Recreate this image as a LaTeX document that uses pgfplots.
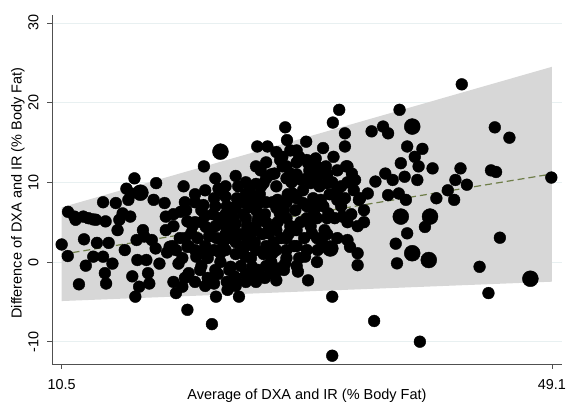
\documentclass[border=0pt]{standalone}
\usepackage{pgfplots}
\pgfplotsset{compat=1.18}
\usepackage{fontspec}
\setmainfont{Liberation Sans}

\definecolor{bandgray}{RGB}{215,215,215}
\definecolor{fitgreen}{RGB}{110,125,72}
\definecolor{gridc}{RGB}{232,240,241}
\definecolor{axisc}{RGB}{80,80,80}

\pgfplotstableread{
x y
10.5 2.2
10.98 0.75
11.0 6.3
11.5 5.7
11.6 5.3
11.86 -2.8
12.2 5.7
12.26 2.85
12.4 -0.46
12.6 5.5
12.97 5.35
13.2 5.3
12.99 0.67
13.28 2.4
13.76 7.5
13.76 0.67
13.9 -1.4
14.0 -2.7
13.96 5.1
14.2 2.4
14.5 -0.2
14.76 7.4
14.9 4.0
15.04 5.3
15.3 6.1
15.47 1.5
15.6 9.2
15.75 7.8
15.9 5.7
15.95 8.6
16.06 -1.8
16.23 10.5
16.3 -4.35
16.4 2.76
16.46 0.25
16.6 -3.1
16.9 4.0
17.0 3.2
17.17 0.25
17.3 -1.4
17.4 -2.7
17.6 2.76
17.74 7.8
17.94 9.9
17.9 1.7
18.2 -0.2
18.6 7.4
18.7 5.7
18.7 4.0
19.0 1.9
19.5 -3.9
19.7 -0.2
19.87 6.3
20.0 -3.1
20.1 9.5
20.3 6.5
20.4 -6.0
20.4 5.1
20.4 1.9
20.5 -1.4
20.7 3.6
21.1 0.67
21.4 -1.0
21.66 7.15
21.7 12.0
21.85 4.4
22.1 3.2
22.33 -7.8
22.5 -2.7
22.65 -4.35
22.85 9.2
22.99 1.1
23.3 2.76
23.4 9.5
23.5 5.7
23.56 -3.5
23.8 -0.6
24.0 4.0
24.1 -1.8
24.4 9.5
24.46 -4.35
24.55 7.8
24.7 1.9
24.98 0.67
25.26 6.9
25.4 3.6
25.5 -0.6
25.7 -1.8
25.9 14.5
25.97 5.5
26.05 7.4
26.17 11.5
26.4 9.9
26.7 14.5
26.8 3.6
26.9 -1.4
27.1 1.1
27.25 11.1
27.4 -2.3
27.5 7.8
27.67 6.1
27.87 13.2
28.1 16.9
28.24 15.3
28.1 -0.17
28.4 3.6
28.5 11.1
28.67 8.6
28.8 4.4
29.1 -1.2
29.2 13.2
29.36 10.3
29.5 7.4
29.66 0.67
29.75 15.1
29.9 -2.3
29.9 12.4
30.1 9.9
30.2 3.6
30.37 6.1
30.65 1.5
30.8 11.1
30.9 7.8
31.08 14.3
31.2 4.0
31.36 9.9
31.5 6.1
31.8 -4.35
31.8 -11.76
31.85 17.5
31.9 13.2
32.2 7.8
32.35 19.1
32.5 9.5
32.6 5.7
32.8 16.15
32.8 14.5
32.9 12.0
33.0 2.76
33.2 1.9
33.35 11.1
33.6 10.3
33.8 -0.4
33.8 1.1
33.9 7.8
34.3 6.5
34.6 8.6
34.9 16.4
35.2 10.1
35.1 -7.4
35.8 17.0
35.98 11.1
36.2 16.15
36.2 8.4
36.56 10.3
36.8 2.3
36.9 -0.17
37.04 8.6
37.1 19.1
37.2 12.4
37.5 10.7
37.6 7.8
37.7 3.6
37.7 14.5
38.3 13.2
38.5 10.3
38.6 12.0
38.7 -10.0
38.9 14.2
39.1 4.4
39.7 11.75
40.0 8.0
40.9 9.0
41.4 7.8
41.5 10.3
41.9 11.75
42.0 22.3
42.4 9.7
43.4 -0.6
44.1 -3.9
44.3 11.5
44.6 16.9
44.7 11.3
45.0 3.05
45.75 15.6
49.05 10.6
20.5 2.0
20.8 4.5
21.0 1.5
21.2 3.0
21.5 5.0
21.8 2.0
22.0 0.5
22.2 4.0
22.4 6.0
22.5 1.5
22.7 3.0
22.9 5.5
23.0 0.0
23.2 2.0
23.4 4.5
23.5 7.0
23.7 -1.0
23.8 3.0
24.0 5.5
24.2 1.0
24.3 8.0
24.5 3.5
24.6 -0.5
24.8 6.0
25.0 2.0
25.1 4.5
25.3 9.0
25.4 0.5
25.6 7.0
25.7 2.5
25.9 5.0
26.0 -1.0
26.1 8.5
26.3 3.5
26.4 1.0
26.5 6.0
26.6 10.5
26.8 4.5
27.0 0.0
27.1 7.5
27.2 2.5
27.4 9.5
27.5 5.0
27.6 -0.8
27.8 3.0
27.9 12.0
28.0 6.5
28.2 1.5
28.3 8.5
28.5 4.5
28.6 10.0
28.8 2.0
28.9 6.5
29.0 12.5
29.2 0.5
29.3 5.0
29.5 9.0
29.6 3.0
29.8 7.0
30.0 11.5
30.1 4.5
30.3 8.0
30.5 13.0
30.6 5.5
30.8 9.5
31.0 2.5
31.1 7.0
31.3 12.0
31.6 8.5
31.8 10.0
32.0 5.5
32.2 11.5
32.5 7.0
32.8 8.0
33.0 10.0
33.3 6.0
33.5 9.0
33.8 4.5
34.0 8.0
34.3 5.0
19.5 1.5
19.8 3.0
20.0 0.5
19.2 2.0
18.8 1.2
21.5 -0.5
22.0 -2.0
22.8 -1.5
23.5 -2.5
24.2 -2.0
25.0 -1.5
25.8 -2.5
26.5 -2.0
27.3 -1.5
28.0 -1.0
24.0 6.5
24.8 7.5
25.5 8.0
26.2 9.5
27.0 11.0
27.7 12.8
28.5 14.0
22.5 8.0
23.0 9.0
21.5 6.5
21.0 7.5
19.3 -2.5
19.3 4.5
19.3 6.0
20.2 -2.0
20.2 3.0
20.2 7.5
21.0 -2.5
21.0 5.0
21.0 8.5
21.8 -3.0
21.8 1.0
21.8 5.8
21.8 9.0
22.6 -1.0
22.6 4.5
22.6 7.0
22.6 10.5
23.4 1.5
23.4 3.5
23.4 6.0
23.4 8.2
24.2 -3.0
24.2 2.5
24.2 4.8
24.2 7.0
24.2 10.8
25.0 -2.5
25.0 3.2
25.0 5.5
25.0 8.5
25.0 10.0
25.8 1.5
25.8 4.0
25.8 6.5
25.8 9.8
25.8 12.0
26.6 -0.5
26.6 2.0
26.6 5.0
26.6 7.5
26.6 12.5
27.4 -1.0
27.4 1.5
27.4 4.0
27.4 6.8
27.4 13.8
28.2 0.5
28.2 3.0
28.2 5.5
28.2 7.5
28.2 10.5
28.2 12.0
29.0 -0.5
29.0 2.0
29.0 4.0
29.0 8.0
29.0 11.0
29.0 14.0
29.8 1.5
29.8 5.5
29.8 10.5
29.8 12.8
30.6 0.0
30.6 3.0
30.6 7.0
30.6 10.5
30.6 12.0
31.4 3.5
31.4 5.5
31.4 11.0
32.2 3.0
32.2 9.0
33.0 5.0
33.0 12.0
}\smalldots

\pgfplotstableread{
x y
16.7 8.7
23.0 13.85
31.65 1.7
38.1 17.0
38.1 1.1
39.4 0.25
39.5 5.7
37.2 5.7
47.4 -2.1
}\bigdots

\begin{document}
\begin{tikzpicture}
\useasboundingbox (-52pt,-43pt) rectangle (515pt,364pt);
\begin{axis}[
    scale only axis,
    width=510pt, height=349pt,
    xmin=9.74, xmax=49.89,
    ymin=-12.8, ymax=31.0,
    axis x line*=bottom, axis y line*=left,
    axis line style={draw=axisc, line width=0.8pt},
    tick align=outside,
    major tick length=4.5pt,
    tick style={draw=axisc, line width=0.8pt},
    xtick={10.5,49.1},
    xticklabels={10.5,49.1},
    ytick={-10,0,10,20,30},
    yticklabels={-10,0,10,20,30},
    ticklabel style={font=\fontsize{14.4}{16}\selectfont},
    xticklabel style={anchor=base, yshift=-21pt},
    yticklabel style={xshift=-9pt, rotate=90, anchor=base},
    ymajorgrids,
    grid style={draw=gridc, line width=0.8pt},
    xlabel={Average of DXA and IR (\% Body Fat)},
    ylabel={Difference of DXA and IR (\% Body Fat)},
    label style={font=\fontsize{14.5}{17}\selectfont},
    xlabel style={at={(axis description cs:0.5,-0.092)}, anchor=center},
    ylabel style={at={(axis description cs:-0.067,0.49)}, anchor=center},
    clip=false,
]
% limits of agreement band
\addplot[fill=bandgray, draw=none] coordinates {(10.5,-4.9) (49.1,-2.47) (49.1,24.5) (10.5,6.86)} --cycle;
% observations
\addplot[only marks, mark=*, mark size=5.9pt, black] table[x=x,y=y] {\smalldots};
\addplot[only marks, mark=*, mark size=8pt, black] table[x=x,y=y] {\bigdots};
% fitted line
\addplot[fitgreen, line width=1.2pt, dash pattern=on 7pt off 4pt] coordinates {(10.5,0.96) (49.1,11.05)};
\end{axis}
\end{tikzpicture}
\end{document}
